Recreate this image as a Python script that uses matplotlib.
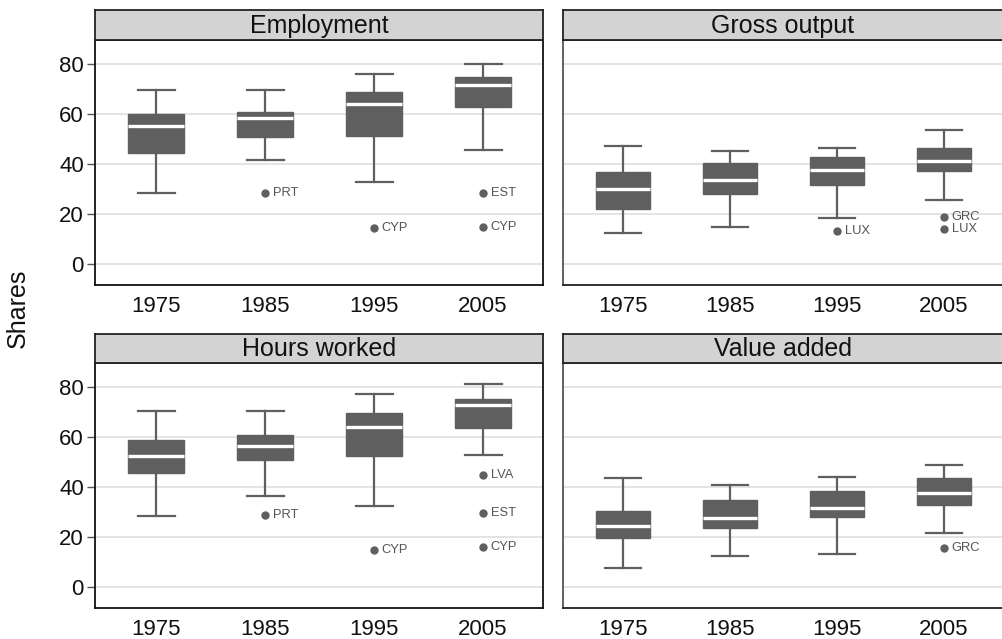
import matplotlib
matplotlib.use("Agg")
import matplotlib.pyplot as plt

plt.rcParams['font.family'] = ['Liberation Sans', 'DejaVu Sans']

years = ["1975", "1985", "1995", "2005"]
panels = ["Employment", "Gross output", "Hours worked", "Value added"]

# per panel: [lower whisker, Q1, median, Q3, upper whisker] per year
emp_stats = [[28.3, 44.5, 55.2, 60.1, 69.6],
             [41.6, 50.9, 58.5, 60.9, 69.6],
             [32.8, 51.5, 64.0, 68.8, 76.1],
             [45.6, 62.8, 71.6, 74.8, 80.1]]
go_stats = [[12.4, 21.9, 30.0, 36.9, 47.2],
            [14.9, 28.0, 33.6, 40.5, 45.2],
            [18.4, 31.7, 37.6, 42.8, 46.7],
            [25.7, 37.3, 41.3, 46.5, 53.6]]
hw_stats = [[28.6, 45.6, 52.7, 59.0, 70.4],
            [36.4, 50.8, 56.7, 60.9, 70.4],
            [32.6, 52.7, 64.1, 69.7, 77.2],
            [53.1, 63.8, 72.9, 75.3, 81.3]]
va_stats = [[7.6, 19.5, 24.3, 30.4, 43.7],
            [12.3, 23.5, 27.7, 34.8, 40.8],
            [13.4, 28.1, 31.7, 38.3, 44.3],
            [21.5, 32.9, 37.7, 43.6, 48.8]]

# outliers: (year index, value, label)
emp_out = [(1, 28.5, "PRT"), (2, 14.5, "CYP"), (3, 28.3, "EST"), (3, 14.9, "CYP")]
go_out = [(2, 13.2, "LUX"), (3, 18.7, "GRC"), (3, 13.9, "LUX")]
hw_out = [(1, 29.0, "PRT"), (2, 14.8, "CYP"), (3, 45.0, "LVA"), (3, 29.8, "EST"), (3, 16.1, "CYP")]
va_out = [(3, 15.8, "GRC")]

all_stats = [emp_stats, go_stats, hw_stats, va_stats]
all_out = [emp_out, go_out, hw_out, va_out]

W, H = 1002, 639
fig = plt.figure(figsize=(W / 100, H / 100), dpi=100)

BOX = "#5f5f5f"
HEAD = "#d3d3d3"
GRID = "#e2e2e2"

# pixel layouts (x0, x1, header_top, plot_top, plot_bottom)
layouts = [(95, 543, 10, 40, 285),
           (563, 1003, 10, 40, 285),
           (95, 543, 334, 363, 608),
           (563, 1003, 334, 363, 608)]

for k, (x0, x1, ht, pt, pb) in enumerate(layouts):
    ax = fig.add_axes([x0 / W, 1 - pb / H, (x1 - x0) / W, (pb - pt) / H])
    hax = fig.add_axes([x0 / W, 1 - pt / H, (x1 - x0) / W, (pt - ht) / H])
    hax.set_facecolor(HEAD)
    hax.set_xticks([]); hax.set_yticks([])
    for s in hax.spines.values():
        s.set_color("#222222"); s.set_linewidth(1.3)
    hax.text(0.5, 0.47, panels[k], ha="center", va="center", fontsize=18,
             color="#111111", transform=hax.transAxes)

    stats = []
    for i, (lo, q1, med, q3, hi) in enumerate(all_stats[k]):
        stats.append(dict(whislo=lo, q1=q1, med=med, q3=q3, whishi=hi, fliers=[]))
    pos = list(range(1, len(years) + 1))
    ax.bxp(stats, positions=pos, widths=0.51, capwidths=0.34, patch_artist=True,
           showfliers=False,
           boxprops=dict(facecolor=BOX, edgecolor=BOX, linewidth=1.0),
           medianprops=dict(color="white", linewidth=2.4, solid_capstyle="butt"),
           whiskerprops=dict(color=BOX, linewidth=1.6),
           capprops=dict(color=BOX, linewidth=1.6), zorder=3)

    for (yi, val, lab) in all_out[k]:
        ax.plot(pos[yi], val, "o", color=BOX, markersize=5, zorder=4)
        ax.text(pos[yi] + 0.07, val, lab, fontsize=9.3, color="#555555",
                va="center", ha="left", zorder=4)

    ax.set_xlim(0.44, 4.55)
    ax.set_ylim(-8.4, 89.8)
    ax.set_yticks([0, 20, 40, 60, 80])
    ax.grid(axis="y", color=GRID, linewidth=1.3, zorder=0)
    ax.set_axisbelow(True)
    ax.set_xticks(pos)
    ax.set_xticklabels(years, fontsize=16)
    ax.tick_params(axis="x", length=0, pad=8, colors="#111111")
    if k % 2 == 0:
        ax.tick_params(axis="y", length=6, width=1.0, color="#555555",
                       labelsize=16, pad=2, labelcolor="#111111")
        for s in ax.spines.values():
            s.set_color("#111111"); s.set_linewidth(1.3)
    else:
        ax.tick_params(axis="y", length=0, labelleft=False)
        ax.spines["right"].set_visible(False)
        for s in ["left", "top", "bottom"]:
            ax.spines[s].set_color("#222222"); ax.spines[s].set_linewidth(1.3)
        ax.spines["left"].set_color("#555555")

fig.text(18 / W, 1 - 308 / H, "Shares", rotation=90, ha="center", va="center",
         fontsize=18, color="#111111")

fig.savefig("out.png", dpi=100)
